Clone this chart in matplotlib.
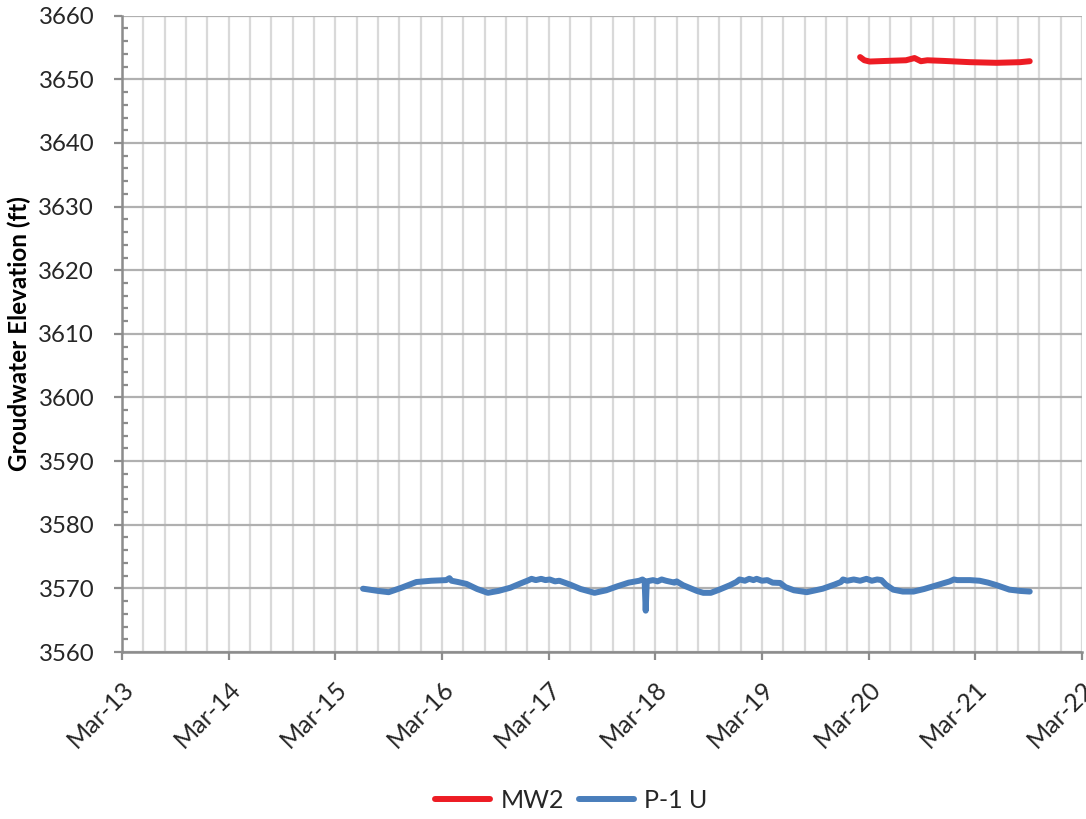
import matplotlib
matplotlib.use("Agg")
import matplotlib.pyplot as plt
from matplotlib.ticker import MultipleLocator, FixedLocator
import numpy as np

plt.rcParams['font.family'] = ['Lato', 'DejaVu Sans']

# ---- data (decimal year, elevation ft) ----
mw2_t = [2019.92, 2019.96, 2020.01, 2020.17, 2020.35, 2020.43, 2020.49, 2020.55, 2020.70,
         2020.95, 2021.20, 2021.42, 2021.51]
mw2_v = [3653.5, 3653.0, 3652.8, 3652.9, 3653.0, 3653.35, 3652.85, 3653.0, 3652.9,
         3652.7, 3652.6, 3652.7, 3652.85]

p1_t = [2015.26, 2015.40, 2015.50, 2015.62, 2015.76, 2015.90, 2016.04, 2016.07, 2016.09,
        2016.15, 2016.23, 2016.33, 2016.43, 2016.53, 2016.64, 2016.74, 2016.80, 2016.84,
        2016.88, 2016.93, 2016.97, 2017.01, 2017.06, 2017.10, 2017.20, 2017.30, 2017.43,
        2017.54, 2017.64, 2017.75, 2017.85, 2017.88, 2017.90, 2017.91, 2017.92, 2017.98,
        2018.02, 2018.06, 2018.10, 2018.18, 2018.20, 2018.26, 2018.39, 2018.45, 2018.52,
        2018.60, 2018.70, 2018.76, 2018.79, 2018.84, 2018.88, 2018.92, 2018.95, 2019.00,
        2019.05, 2019.10, 2019.17, 2019.22, 2019.30, 2019.42, 2019.57, 2019.68, 2019.74,
        2019.76, 2019.80, 2019.86, 2019.92, 2019.98, 2020.03, 2020.08, 2020.12, 2020.16,
        2020.23, 2020.32, 2020.42, 2020.52, 2020.64, 2020.76, 2020.80, 2020.83, 2020.95,
        2021.04, 2021.12, 2021.20, 2021.32, 2021.42, 2021.51]
p1_v = [3569.95, 3569.6, 3569.4, 3570.1, 3571.0, 3571.2, 3571.3, 3571.6, 3571.2,
        3571.0, 3570.7, 3569.9, 3569.3, 3569.6, 3570.1, 3570.8, 3571.2, 3571.5,
        3571.3, 3571.5, 3571.3, 3571.4, 3571.1, 3571.2, 3570.6, 3569.9, 3569.3,
        3569.7, 3570.3, 3570.9, 3571.2, 3571.4, 3571.1, 3566.5, 3571.1, 3571.3,
        3571.1, 3571.4, 3571.2, 3570.9, 3571.1, 3570.5, 3569.6, 3569.3, 3569.3,
        3569.8, 3570.5, 3571.0, 3571.4, 3571.2, 3571.5, 3571.3, 3571.5, 3571.2,
        3571.3, 3570.9, 3570.85, 3570.2, 3569.7, 3569.4, 3569.95, 3570.6, 3571.0,
        3571.4, 3571.2, 3571.4, 3571.2, 3571.5, 3571.2, 3571.4, 3571.3, 3570.6,
        3569.8, 3569.5, 3569.5, 3569.9, 3570.5, 3571.1, 3571.4, 3571.3, 3571.3,
        3571.2, 3570.9, 3570.5, 3569.8, 3569.6, 3569.5]

year_ticks = list(range(2013, 2023))
year_labels = ["Mar-13", "Mar-14", "Mar-15", "Mar-16", "Mar-17", "Mar-18",
               "Mar-19", "Mar-20", "Mar-21", "Mar-22"]
series_names = ["MW2", "P-1 U"]

fig = plt.figure(figsize=(10.86, 8.19), dpi=100)
ax = fig.add_axes([0.1123, 0.2039, 0.8840, 0.7769])

ax.plot(mw2_t, mw2_v, color="#ED1C24", lw=4.3, solid_capstyle="round",
        solid_joinstyle="round", label=series_names[0], zorder=3)
ax.plot(p1_t, p1_v, color="#4A7EBB", lw=4.3, solid_capstyle="round",
        solid_joinstyle="round", label=series_names[1], zorder=3)

ax.set_xlim(2013, 2022)
ax.set_ylim(3560, 3660)

ax.xaxis.set_major_locator(FixedLocator(year_ticks))
ax.set_xticklabels(year_labels, rotation=45, ha="right", rotation_mode="anchor",
                   fontsize=18, color="#262626")
ax.xaxis.set_minor_locator(FixedLocator(list(np.arange(2013, 2022.01, 0.2))))
ax.yaxis.set_major_locator(MultipleLocator(10))
ax.yaxis.set_minor_locator(MultipleLocator(2))

for lbl in ax.get_yticklabels():
    lbl.set_fontsize(17.3)
    lbl.set_color("#262626")

ax.grid(which="minor", axis="x", color="#D9D9D9", lw=1.6, zorder=0)
ax.grid(which="major", axis="x", color="#D9D9D9", lw=1.6, zorder=0)
ax.grid(which="major", axis="y", color="#B0B0B0", lw=1.6, zorder=1)
ax.set_axisbelow(True)

ax.tick_params(axis="x", which="major", direction="out", length=6, width=1.6,
               color="#8C8C8C", pad=12)
ax.tick_params(axis="x", which="minor", length=0)
ax.tick_params(axis="y", which="major", direction="out", length=6, width=1.6,
               color="#8C8C8C", pad=14)
ax.tick_params(axis="y", which="minor", direction="in", length=4.5, width=1.6,
               color="#8C8C8C")

for s in ["top", "right"]:
    ax.spines[s].set_visible(False)
for s in ["left", "bottom"]:
    ax.spines[s].set_color("#8C8C8C")
    ax.spines[s].set_linewidth(1.8)

ax.set_ylabel("Groudwater Elevation (ft)", fontsize=17.5, fontweight="bold",
              color="#000000", labelpad=5)

leg = fig.legend(loc="center", bbox_to_anchor=(0.526, 0.023), ncol=2, frameon=False,
                 fontsize=18, handlelength=2.2, columnspacing=0.6, handletextpad=0.4)
for t in leg.get_texts():
    t.set_color("#262626")

fig.savefig("out.png", dpi=100)
